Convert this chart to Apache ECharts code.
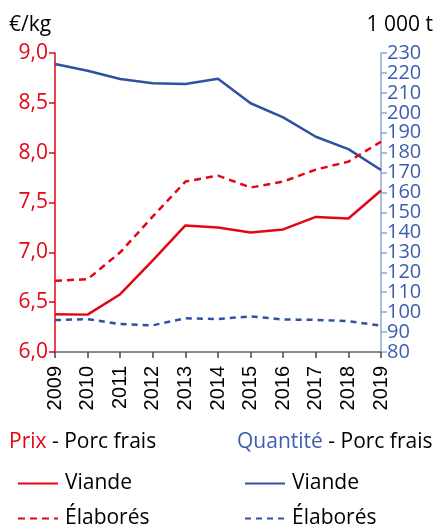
<!DOCTYPE html>
<html>
<head>
<meta charset="utf-8">
<script src="https://cdn.jsdelivr.net/npm/echarts@6/dist/echarts.min.js"></script>
<style>
  html, body { margin: 0; padding: 0; background: #fff; }
  #main { width: 440px; height: 527px; }
</style>
</head>
<body>
<div id="main"></div>
<script>
// années
var years = ['2009', '2010', '2011', '2012', '2013', '2014', '2015', '2016', '2017', '2018', '2019']
// prix (€/kg)
var prixViande = [6.38, 6.375, 6.58, 6.92, 7.27, 7.25, 7.20, 7.23, 7.355, 7.34, 7.62]
var prixElabores = [6.715, 6.73, 7.00, 7.36, 7.71, 7.77, 7.65, 7.71, 7.83, 7.91, 8.11]
// quantités (1 000 t)
var qteViande = [224.5, 221.1, 217.0, 214.8, 214.4, 217.1, 204.8, 197.7, 188.0, 181.8, 171.3]
var qteElabores = [96.0, 96.5, 94.0, 93.4, 96.9, 96.5, 97.9, 96.3, 96.1, 95.5, 93.2]

var red = '#e30613'
var blue = '#2e51a3'
var font = 'Open Sans'
var f21 = '21px "Open Sans"'

// une légende par entrée (deux colonnes)
function legendItem (name, left, top) {
    return {
        data: [name],
        left: left, top: top,
        itemWidth: 40, itemHeight: 16, itemGap: 6,
        itemStyle: { opacity: 0 },
        formatter: function (n) { return n.split('|')[1] },
        textStyle: { fontSize: 21, fontFamily: font, color: '#000', padding: [0, 0, 0, 2] }
    }
}

var option = {
    animation: false,
    textStyle: { fontFamily: font },
    grid: { left: 55, right: 59, top: 53, bottom: 175 },
    graphic: [
        { type: 'text', left: 9, top: 15, style: { text: '€/kg', font: f21, fill: '#000' } },
        { type: 'text', right: 7, top: 15, style: { text: '1 000 t', font: f21, fill: '#000' } },
        {
            type: 'text', left: 9, top: 432,
            style: {
                text: '{a|Prix} - Porc frais',
                font: f21, fill: '#000',
                rich: { a: { fill: red, font: f21 } }
            }
        },
        {
            type: 'text', left: 237, top: 432,
            style: {
                text: '{a|Quantité} - Porc frais',
                font: f21, fill: '#000',
                rich: { a: { fill: '#3d5eb0', font: f21 } }
            }
        }
    ],
    legend: [
        legendItem('p|Viande', 12, 468),
        legendItem('p|Élaborés', 12, 503),
        legendItem('q|Viande', 239, 468),
        legendItem('q|Élaborés', 239, 503)
    ],
    xAxis: {
        type: 'category',
        data: years,
        boundaryGap: false,
        axisLine: { lineStyle: { color: '#666', width: 1.5 } },
        axisTick: { alignWithLabel: true, length: 6, lineStyle: { color: '#444', width: 1.5 } },
        axisLabel: {
            rotate: 90, fontSize: 20, color: '#000', fontFamily: 'Liberation Sans', margin: 14, interval: 0
        }
    },
    yAxis: [
        {
            type: 'value', min: 6, max: 9, interval: 0.5,
            splitLine: { show: false },
            axisLine: { show: true, lineStyle: { color: red, width: 1.5 } },
            axisTick: { show: true, length: 6, lineStyle: { color: red, width: 1.5 } },
            axisLabel: {
                fontSize: 21, color: red, margin: 7,
                formatter: function (v) { return v.toFixed(1).replace('.', ',') }
            }
        },
        {
            type: 'value', min: 80, max: 230, interval: 10, position: 'right',
            splitLine: { show: false },
            axisLine: { show: true, lineStyle: { color: '#8fa4d8', width: 1.5 } },
            axisTick: { show: true, length: 6, lineStyle: { color: '#8fa4d8', width: 1.5 } },
            axisLabel: { fontSize: 20, color: '#3d5eb0', margin: 6 }
        }
    ],
    series: [
        {
            name: 'q|Viande', type: 'line', yAxisIndex: 1, symbol: 'none',
            data: qteViande, color: blue, lineStyle: { color: blue, width: 2.5 }
        },
        {
            name: 'q|Élaborés', type: 'line', yAxisIndex: 1, symbol: 'none',
            data: qteElabores, color: blue, lineStyle: { color: blue, width: 2.5, type: [6, 5] }
        },
        {
            name: 'p|Viande', type: 'line', yAxisIndex: 0, symbol: 'none',
            data: prixViande, color: red, lineStyle: { color: red, width: 2.5 }
        },
        {
            name: 'p|Élaborés', type: 'line', yAxisIndex: 0, symbol: 'none',
            data: prixElabores, color: red, lineStyle: { color: red, width: 2.5, type: [7, 5] }
        }
    ]
}

var myChart = echarts.init(document.getElementById('main'))
myChart.setOption(option)
</script>
</body>
</html>
